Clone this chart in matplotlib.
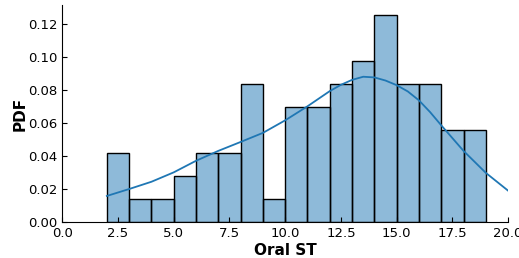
import numpy as np
import matplotlib.pyplot as plt

# histogram bins (width 1) and counts
bin_edges = list(range(2, 20))
counts = [3, 1, 1, 2, 3, 3, 6, 1, 5, 5, 6, 7, 9, 6, 6, 4, 4]

# density curve
kde_x = [2, 3, 4, 5, 6, 7, 8, 9, 10, 11, 12, 12.5, 13, 13.5, 14, 14.5, 15,
         15.5, 16, 16.5, 17, 18, 19, 20]
kde_y = [0.0157, 0.0199, 0.0243, 0.030, 0.037, 0.043, 0.0484, 0.0539, 0.0615, 0.070,
         0.0792, 0.083, 0.086, 0.0879, 0.0875, 0.0856, 0.0828,
         0.079, 0.0736, 0.0665, 0.0585, 0.043, 0.0297, 0.0189]

total = sum(counts)
density = [c / total for c in counts]
widths = np.diff(bin_edges)

fig, ax = plt.subplots(figsize=(5.19, 2.58), dpi=100)
fig.subplots_adjust(left=0.12, right=0.979, top=0.98, bottom=0.14)

ax.bar(bin_edges[:-1], density, width=widths, align='edge',
       color='#1f77b4', alpha=0.5, edgecolor='none')
ax.bar(bin_edges[:-1], density, width=widths, align='edge',
       fill=False, edgecolor='black', linewidth=1)

ax.plot(kde_x, kde_y, color='#1f77b4', linewidth=1.3)

ax.set_xlim(0, 20)
ax.set_ylim(0, 0.13125)
ax.set_xticks([0, 2.5, 5, 7.5, 10, 12.5, 15, 17.5, 20])
ax.set_yticks([0, 0.02, 0.04, 0.06, 0.08, 0.10, 0.12])
ax.tick_params(direction='in', labelsize=9.5)
ax.spines['top'].set_visible(False)
ax.spines['right'].set_visible(False)

ax.set_xlabel('Oral ST', fontsize=11, fontweight='bold', labelpad=2)
ax.set_ylabel('PDF', fontsize=11, fontweight='bold', labelpad=0)

plt.savefig('out.png')
